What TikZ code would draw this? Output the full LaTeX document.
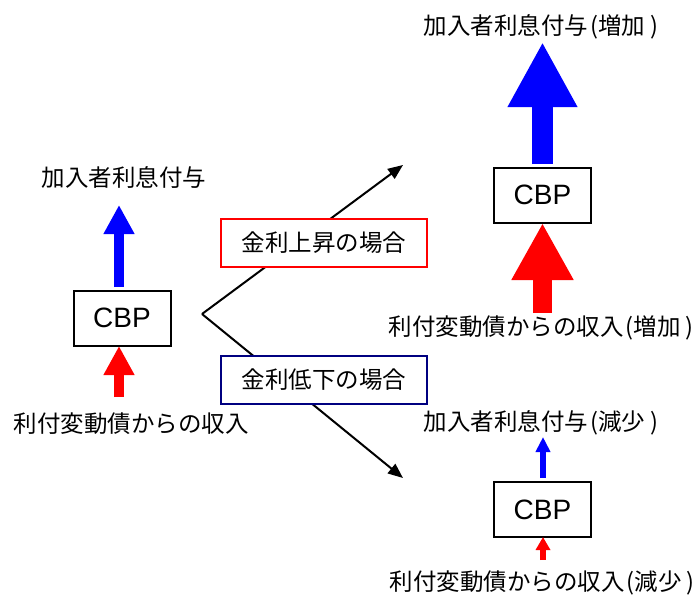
\documentclass[tikz,border=0pt]{standalone}
\usepackage{fontspec}
\setmainfont{Liberation Sans}
\newfontfamily\jp{Noto Sans CJK JP}
\usetikzlibrary{arrows.meta}
\definecolor{navyb}{RGB}{0,0,128}
\newcommand{\lp}{\hspace{2pt}(}
\newcommand{\rp}{\hspace{5pt})}
\begin{document}
\begin{tikzpicture}[x=1pt,y=-1pt,
  cbp/.style={draw,line width=2pt,minimum width=97pt,minimum height=55pt,inner sep=0pt,font=\fontsize{28}{31}\selectfont},
  lbl/.style={inner sep=0pt,font=\jp\fontsize{23.5}{27}\selectfont},
  casebox/.style={draw,line width=1.5pt,fill=white,minimum width=206pt,minimum height=48pt,inner sep=0pt,font=\jp\fontsize{23.5}{27}\selectfont},
  conn/.style={line width=2pt,-{Triangle[width=12pt,length=15pt]}}]
\useasboundingbox (0,0) rectangle (696,595);
% CBP boxes
\node[cbp] (cbpL) at (122,318) {CBP};
\node[cbp] (cbpU) at (542.5,195) {CBP};
\node[cbp] (cbpD) at (542.5,509.5) {CBP};
% labels
\node[lbl] (outL) at (124,177) {加入者利息付与};
\node[lbl] (inL) at (131,424) {利付変動債からの収入};
\node[lbl] (outU) at (541,27) {加入者利息付与\lp 増加\rp};
\node[lbl] (inU) at (541,328) {利付変動債からの収入\lp 増加\rp};
\node[lbl] (outD) at (541,423) {加入者利息付与\lp 減少\rp};
\node[lbl] (inD) at (542,583) {利付変動債からの収入\lp 減少\rp};
% connectors
\coordinate (v) at (202,314);
\coordinate (tU) at (403,165);
\coordinate (tD) at (403,478);
\draw[conn] (v) -- (tU);
\draw[conn] (v) -- (tD);
\node[casebox,draw=red] (up) at (324,243) {金利上昇の場合};
\node[casebox,draw=navyb] (down) at (324,380) {金利低下の場合};
% fat arrows left
\coordinate (aLb0) at (119,287);
\coordinate (aLb1) at (119,205);
\draw[blue,line width=10pt,-{Triangle[width=29pt,length=29pt]}] (aLb0) -- (aLb1);
\coordinate (aLr0) at (119,397);
\coordinate (aLr1) at (119,346);
\draw[red,line width=10pt,-{Triangle[width=29pt,length=29pt]}] (aLr0) -- (aLr1);
% fat arrows upper right
\coordinate (aUb0) at (542.5,164);
\coordinate (aUb1) at (542.5,42);
\draw[blue,line width=21pt,-{Triangle[width=65pt,length=65pt]}] (aUb0) -- (aUb1);
\coordinate (aUr0) at (542.5,313);
\coordinate (aUr1) at (542.5,223);
\draw[red,line width=19pt,-{Triangle[width=58pt,length=57pt]}] (aUr0) -- (aUr1);
% thin arrows lower right
\coordinate (aDb0) at (543,478);
\coordinate (aDb1) at (543,437);
\draw[blue,line width=6pt,-{Triangle[width=14pt,length=15pt]}] (aDb0) -- (aDb1);
\coordinate (aDr0) at (543,560);
\coordinate (aDr1) at (543,537);
\draw[red,line width=6pt,-{Triangle[width=14pt,length=13pt]}] (aDr0) -- (aDr1);
\end{tikzpicture}
\end{document}
